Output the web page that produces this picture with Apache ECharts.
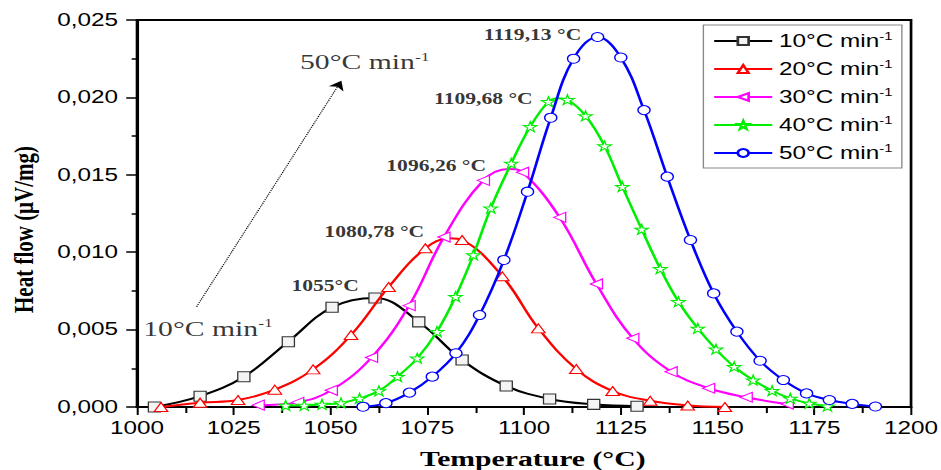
<!DOCTYPE html>
<html>
<head>
<meta charset="utf-8">
<script src="https://cdn.jsdelivr.net/npm/echarts@6/dist/echarts.min.js"></script>
<style>
html, body { margin: 0; padding: 0; background: #fff; overflow: hidden; }
/* the source figure is stretched sideways, so the chart is too */
#main { width: 697px; height: 470px; transform: scaleX(1.3501); transform-origin: 0 0; }
</style>
</head>
<body>
<div id="main"></div>
<script>
var rateNames = ['10°C min', '20°C min', '30°C min', '40°C min', '50°C min'];
var rateColors = ['#000000', '#ff0000', '#ff00ff', '#00ee00', '#0000ff'];

// marker points (temperature °C, heat flow µV/mg)
var temp10 = [1004.5, 1016.3, 1027.6, 1039.1, 1050.4, 1061.5, 1072.8, 1084.0, 1095.4, 1106.6, 1118.0, 1129.2];
var flow10 = [0, 0.0007, 0.00196, 0.00422, 0.00644, 0.00704, 0.0055, 0.00304, 0.00136, 0.00052, 0.00017, 0.00005];

var temp20 = [1006.2, 1016.3, 1026.1, 1035.6, 1045.5, 1055.3, 1065.0, 1074.5, 1084.0, 1094.4, 1103.7, 1113.5, 1122.9, 1132.6, 1142.3, 1151.9];
var flow20 = [0, 0.00028, 0.00045, 0.00112, 0.00243, 0.00465, 0.00775, 0.01025, 0.01079, 0.00844, 0.00508, 0.00245, 0.00103, 0.0004, 0.0001, 0];

var temp30 = [1031.3, 1041.5, 1050.2, 1060.6, 1070.3, 1079.3, 1089.5, 1099.6, 1109.2, 1118.7, 1128.1, 1138.0, 1147.7, 1157.4, 1168.0];
var flow30 = [0.00012, 0.0003, 0.00108, 0.0032, 0.00655, 0.01098, 0.01464, 0.01517, 0.01225, 0.00795, 0.00444, 0.00228, 0.00121, 0.00063, 0.00019];

var temp40 = [1038.4, 1043.2, 1047.8, 1052.7, 1057.5, 1062.5, 1067.3, 1072.4, 1077.5, 1082.3, 1086.9, 1091.4, 1096.7, 1101.6, 1106.3,
              1111.2, 1115.9, 1120.8, 1125.4, 1130.4, 1135.2, 1139.9, 1144.9, 1149.6, 1154.3, 1159.2, 1164.1, 1168.8, 1173.7, 1178.4];
var flow40 = [0.0001, 0.0001, 0.00017, 0.00026, 0.00056, 0.00104, 0.00196, 0.00315, 0.00487, 0.00713, 0.00982, 0.01284, 0.01574, 0.01811, 0.01972,
              0.01985, 0.01881, 0.01686, 0.01424, 0.01148, 0.00893, 0.0068, 0.00508, 0.00373, 0.0026, 0.00174, 0.00105, 0.00056, 0.00024, 0.00005];

var temp50 = [1058.4, 1064.3, 1070.4, 1076.3, 1082.4, 1088.5, 1094.8, 1100.9, 1106.9, 1112.8, 1119.0, 1125.0, 1131.0, 1137.0, 1143.0,
              1149.0, 1155.0, 1161.0, 1167.0, 1173.0, 1178.9, 1184.8, 1190.8];
var flow50 = [0.00002, 0.00025, 0.00093, 0.00196, 0.00347, 0.00594, 0.0095, 0.01391, 0.01869, 0.0225, 0.0239, 0.02258, 0.01918, 0.01488, 0.01079,
              0.00734, 0.00487, 0.00299, 0.00174, 0.00088, 0.00045, 0.0002, 0.00003];

// curve tops between markers (no symbol drawn there)
var peakTemp = [null, 1080.8, 1096.0, 1108.8, null];
var peakFlow = [null, 0.0109, 0.01538, 0.01995, null];

// peak annotations
var noteTemp = [1048.6, 1061.3, 1077.3, 1089.5, 1102.2];
var noteFlow = [0.00785, 0.01133, 0.01559, 0.01994, 0.02403];
var noteText = ['1055°C', '1080,78 °C', '1096,26 °C', '1109,68 °C', '1119,13 °C'];

// heating-rate arrow
var arrowFrom = [1015.4, 0.00648];
var arrowTo = [1052.8, 0.02108];
var rateNoteTemp = [1001.6, 1042.1];
var rateNoteFlow = [0.00508, 0.0223];
var rateNoteText = ['10°C min', '50°C min'];

var xMin = 1000, xMax = 1200, xStep = 25;
var yMin = 0, yMax = 0.025, yStep = 0.005;

var star = 'path://M50,0 L61,35 L98,35 L68,57 L79,91 L50,70 L21,91 L32,57 L2,35 L39,35 Z';
var symbols = ['rect', 'triangle', 'triangle', star, 'circle'];
var symbolRot = [0, 0, 90, 0, 0];
var symbolSizes = [[9, 10], [10, 9], [10, 9], 10, 9];
var temps = [temp10, temp20, temp30, temp40, temp50];
var flows = [flow10, flow20, flow30, flow40, flow50];

var sans = 'Liberation Sans, Arial, sans-serif';
var serif = 'Liberation Serif, Times New Roman, serif';

var series = [];
for (var i = 0; i < 5; i++) {
  var pts = [];
  for (var j = 0; j < temps[i].length; j++) pts.push([temps[i][j], flows[i][j]]);
  if (peakTemp[i] != null) pts.push({ value: [peakTemp[i], peakFlow[i]], symbol: 'none' });
  pts.sort(function (a, b) { return (a.value || a)[0] - (b.value || b)[0]; });
  series.push({
    name: rateNames[i],
    type: 'line',
    smooth: 0.4,
    data: pts,
    symbol: symbols[i],
    symbolRotate: symbolRot[i],
    symbolSize: symbolSizes[i],
    showAllSymbol: true,
    lineStyle: { color: rateColors[i], width: 2 },
    itemStyle: { color: i == 0 ? '#f4f4f4' : '#ffffff', borderColor: i == 0 ? '#333' : rateColors[i], borderWidth: 1 },
    emphasis: { disabled: true },
    z: 2 + i
  });
}

// arrow
series[0].markLine = {
  silent: true,
  symbol: ['none', 'arrow'],
  symbolSize: 9,
  label: { show: false },
  lineStyle: { type: 'dotted', color: '#000', width: 1 },
  data: [[{ coord: arrowFrom }, { coord: arrowTo }]]
};

var notes = [];
for (var k = 0; k < noteText.length; k++) {
  notes.push({
    value: [noteTemp[k], noteFlow[k]],
    label: { formatter: noteText[k], color: '#000', fontFamily: serif, fontWeight: 'bold', fontSize: 16, align: 'center' }
  });
}
for (var m = 0; m < rateNoteText.length; m++) {
  notes.push({
    value: [rateNoteTemp[m], rateNoteFlow[m]],
    label: {
      formatter: rateNoteText[m] + '{sup|-1}', color: '#000', fontFamily: serif, fontSize: 22, lineHeight: 24, align: 'left',
      rich: { sup: { color: '#000', fontFamily: serif, fontSize: 13, lineHeight: 13, verticalAlign: 'top' } }
    }
  });
}
series.push({
  name: 'notes',
  type: 'scatter',
  data: notes,
  symbolSize: 1,
  itemStyle: { color: 'rgba(0,0,0,0)' },
  label: { show: true, position: 'inside', color: '#000', verticalAlign: 'middle' },
  silent: true,
  z: 10
});

var chart = echarts.init(document.getElementById('main'), null, { renderer: 'svg' });
chart.setOption({
  animation: false,
  backgroundColor: '#fff',
  grid: {
    left: 101.5, right: 22.2, top: 20, bottom: 63,
    outerBoundsMode: 'none',
    show: true, borderColor: '#000', borderWidth: 2
  },
  legend: {
    data: rateNames,
    orient: 'vertical',
    right: 29,
    top: 25,
    padding: [6, 7, 5, 7],
    itemWidth: 43,
    itemHeight: 10,
    itemGap: 8,
    borderColor: '#888',
    borderWidth: 1,
    selectedMode: false,
    formatter: function (name) { return name + '{sup|-1}'; },
    textStyle: {
      fontFamily: sans, fontSize: 18, color: '#000', lineHeight: 20,
      rich: { sup: { fontFamily: sans, fontSize: 11, lineHeight: 12, verticalAlign: 'top', color: '#000' } }
    }
  },
  xAxis: {
    type: 'value',
    min: xMin, max: xMax, interval: xStep,
    name: 'Temperature (°C)',
    nameLocation: 'middle',
    nameGap: 41,
    nameTextStyle: { fontFamily: serif, fontWeight: 'bold', fontSize: 22, color: '#000', padding: [0, 0, 0, 13] },
    axisLine: { lineStyle: { color: '#000', width: 2 } },
    axisTick: { length: 8, lineStyle: { color: '#000', width: 1.5 } },
    minorTick: { show: true, splitNumber: 2, length: 6, lineStyle: { color: '#000', width: 1.5 } },
    splitLine: { show: false },
    axisLabel: { fontFamily: sans, fontSize: 18, color: '#000', margin: 12, formatter: function (v) { return String(v); } }
  },
  yAxis: {
    type: 'value',
    min: yMin, max: yMax, interval: yStep,
    name: 'Heat flow (μV/mg)',
    nameLocation: 'middle',
    nameGap: 74,
    nameTextStyle: { fontFamily: serif, fontWeight: 'bold', fontSize: 21, color: '#000', padding: [0, 32, 0, 0] },
    axisLine: { lineStyle: { color: '#000', width: 2 } },
    axisTick: { length: 8, lineStyle: { color: '#000', width: 1.5 } },
    minorTick: { show: true, splitNumber: 2, length: 4, lineStyle: { color: '#000', width: 1.5 } },
    splitLine: { show: false },
    axisLabel: {
      fontFamily: sans, fontSize: 18, color: '#000', margin: 14,
      formatter: function (v) { return v.toFixed(3).replace('.', ','); }
    }
  },
  series: series
});
</script>
</body>
</html>
